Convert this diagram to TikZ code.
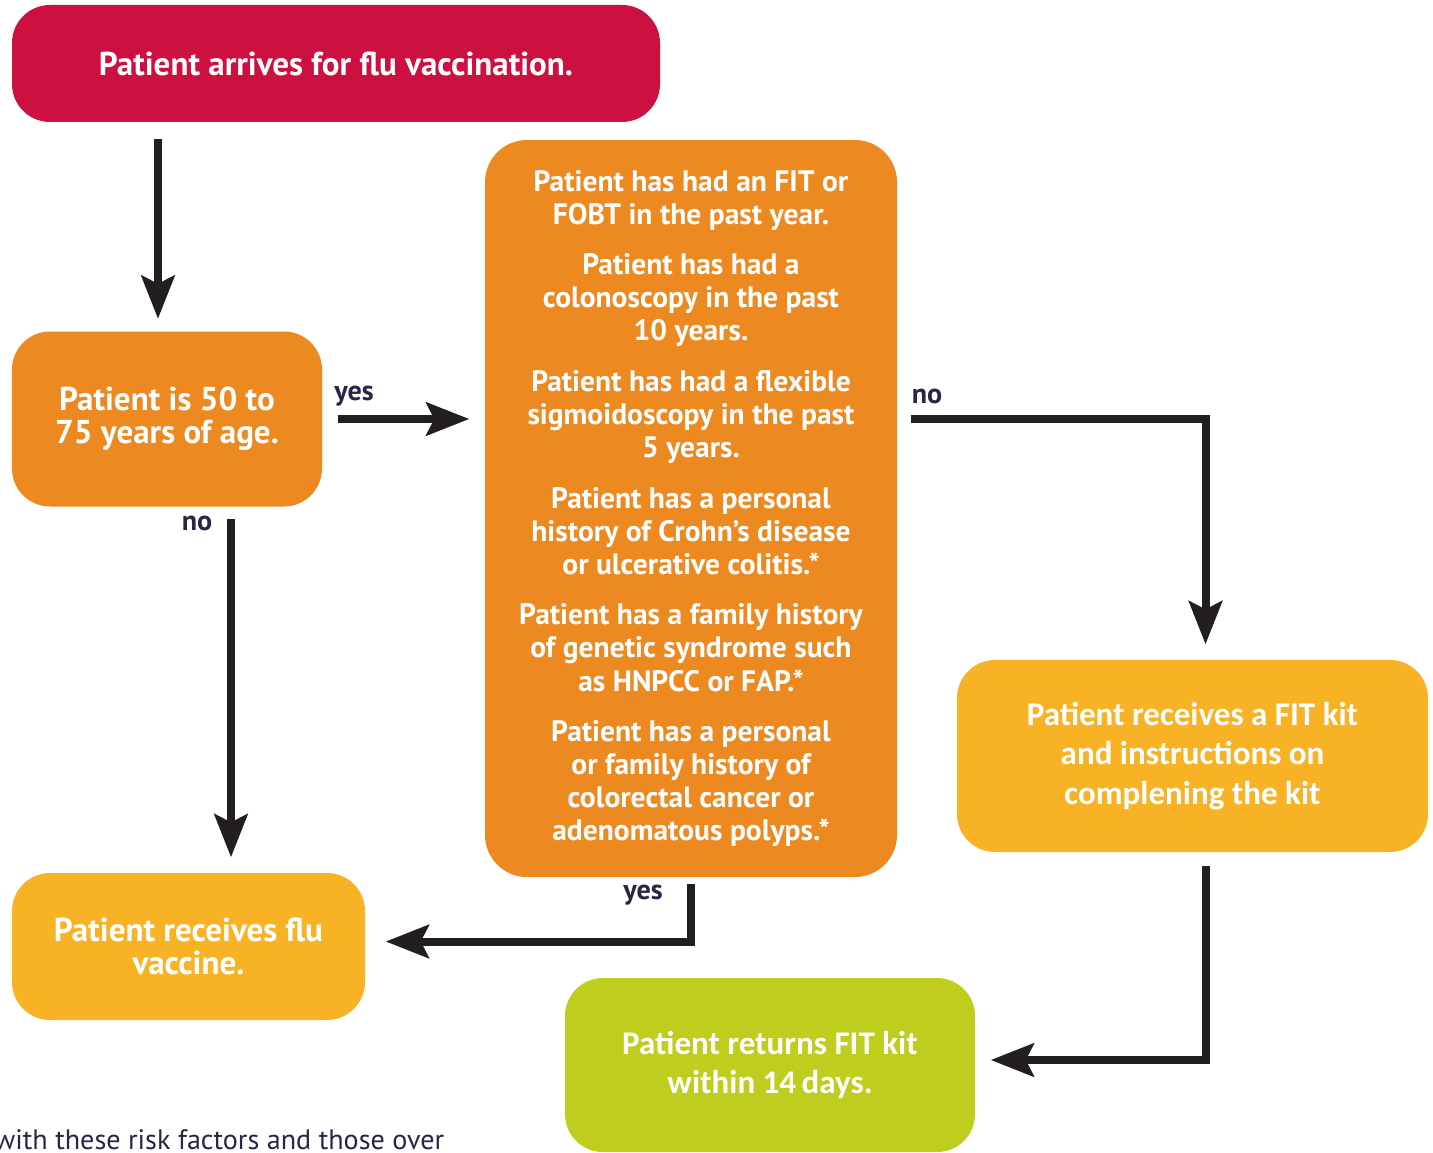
\documentclass[tikz,border=0pt]{standalone}
\usepackage{fontspec}
\setmainfont{Carlito}
\newfontfamily\frut{PT Sans}
\usetikzlibrary{arrows.meta,positioning,calc}
\definecolor{vacred}{RGB}{204,16,64}
\definecolor{ageorange}{RGB}{237,137,33}
\definecolor{kityellow}{RGB}{248,178,38}
\definecolor{returngreen}{RGB}{190,205,30}
\definecolor{arrowblack}{RGB}{35,31,32}
\definecolor{labelnavy}{RGB}{40,38,70}

\tikzset{
  box/.style={rounded corners=0.38cm, inner sep=0pt, align=center, text=white,
    font=\frut\bfseries\fontsize{9.4}{9.4}\selectfont},
  riskbox/.style={box, rounded corners=0.42cm, font=\frut\bfseries\fontsize{8.4}{9.4}\selectfont},
  kitbox/.style={box, font=\bfseries\fontsize{9.4}{11.2}\selectfont},
  flow/.style={draw=arrowblack, line width=0.08cm,
    -{Stealth[length=0.43cm,width=0.33cm,inset=0.08cm]}},
  tag/.style={font=\frut\bfseries\fontsize{8}{9}\selectfont, text=labelnavy, inner sep=0pt},
}

\begin{document}
\begin{tikzpicture}
        \useasboundingbox (0,0) rectangle (14.33,-11.52);
        \clip (0,0) rectangle (14.33,-11.52);
        % Boxes
        \node[box, fill=vacred, minimum width=6.48cm, minimum height=1.17cm]
          (arrive) at (3.36,-0.635) {Patient arrives for flu vaccination.};
        \node[box, fill=ageorange, minimum width=3.10cm, minimum height=1.75cm]
          (age) at (1.67,-4.19) {Patient is 50 to\\75 years of age.};
        \node[riskbox, fill=ageorange, minimum width=4.12cm, minimum height=7.37cm]
          (risk) at (6.91,-5.085) {Patient has had an FIT or\\FOBT in the past year.\\[5pt]
            Patient has had a\\colonoscopy in the past\\10 years.\\[5pt]
            Patient has had a flexible\\sigmoidoscopy in the past\\5 years.\\[5pt]
            Patient has a personal\\history of Crohn’s disease\\or ulcerative colitis.*\\[5pt]
            Patient has a family history\\of genetic syndrome such\\as HNPCC or FAP.*\\[5pt]
            Patient has a personal\\or family history of\\colorectal cancer or\\adenomatous polyps.*};
        \node[box, fill=kityellow, minimum width=3.53cm, minimum height=1.47cm]
          (flu) at (1.885,-9.465) {Patient receives flu\\vaccine.};
        \node[kitbox, fill=kityellow, minimum width=4.71cm, minimum height=1.92cm]
          (kit) at (11.925,-7.56) {Patient receives a FIT kit\\and instructions on\\complening the kit};
        \node[kitbox, fill=returngreen, minimum width=4.10cm, minimum height=1.74cm]
          (return) at (7.70,-10.65) {Patient returns FIT kit\\within 14\,days.};
        % Connectors
        \coordinate (agecol) at ($(age.north)+(-0.09,0)$);
        \coordinate (kitcol) at ($(kit.north)+(0.13,0)$);
        \draw[flow, shorten <=0.16cm, shorten >=0.12cm] (agecol |- arrive.south) -- (agecol);
        \draw[flow, shorten <=0.15cm, shorten >=0.15cm] (age.east) -- (age.east -| risk.west);
        \draw[flow, shorten <=0.12cm, shorten >=0.15cm] ($(age.south)+(0.64,0)$) -- ($(age.south |- flu.north)+(0.64,0)$);
        \draw[flow, shorten <=0.13cm, shorten >=0.15cm] (age.east -| risk.east) -| (kitcol);
        \draw[flow, shorten <=0.06cm, shorten >=0.20cm] (risk.south) |- ($(flu.east)+(0,0.05)$);
        \draw[flow, shorten <=0.13cm, shorten >=0.15cm] (kitcol |- kit.south) |- ($(return.east)+(0,0.05)$);
        % Labels
        \node[tag] (ageyes) at (3.54,-3.96) {yes};
        \node[tag] (ageno) at (1.97,-5.23) {no};
        \node[tag] (riskno) at (9.27,-3.96) {no};
        \node[tag] (riskyes) at (6.43,-8.95) {yes};
        % Footnote
        \node[anchor=base west, inner sep=0pt, text=labelnavy, font=\frut\fontsize{8}{9}\selectfont]
          (foot) at (-0.06,-11.49) {with these risk factors and those over};
\end{tikzpicture}
\end{document}
